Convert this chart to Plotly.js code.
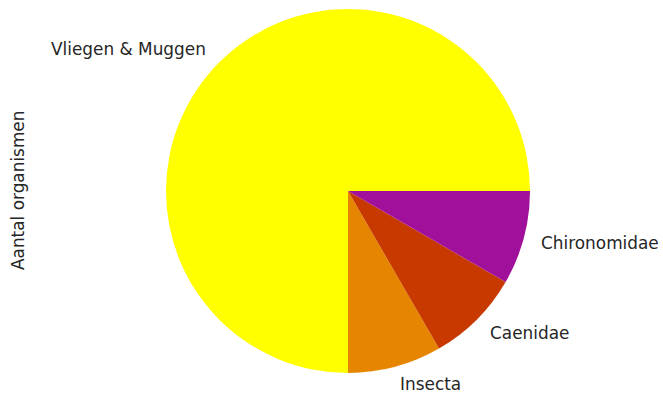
<!DOCTYPE html>
<html>
<head>
<meta charset="utf-8">
<script src="https://cdn.plot.ly/plotly-3.0.1.min.js"></script>
<style>html,body{margin:0;padding:0;background:#fff;}#chart{width:663px;height:399px;}</style>
</head>
<body>
<div id="chart"></div>
<script>
var categories = ["Vliegen & Muggen", "Insecta", "Caenidae", "Chironomidae"];
var values = [9, 1, 1, 1];
var colors = ["#ffff00", "#e68600", "#c83900", "#a0109a"];
var yLabel = "Aantal organismen";

var W = 663, H = 399;
var cx = 348, cy = 191, r = 182;
var FS = 16.9;
var dom = {x: [(cx - r) / W, (cx + r) / W], y: [1 - (cy + r) / H, 1 - (cy - r) / H]};

var total = values.reduce(function (a, b) { return a + b; }, 0);
var annotations = [];
var acc = 0;
for (var i = 0; i < values.length; i++) {
  var mid = (acc + values[i] / 2) / total * 2 * Math.PI;
  acc += values[i];
  var px = cx + 1.1 * r * Math.cos(mid);
  var py = cy - 1.1 * r * Math.sin(mid);
  annotations.push({
    text: categories[i], xref: "paper", yref: "paper",
    x: px / W, y: 1 - py / H,
    xanchor: Math.cos(mid) >= 0 ? "left" : "right", yanchor: "middle",
    xshift: Math.cos(mid) >= 0 ? -2 : 2,
    showarrow: false,
    font: {family: "DejaVu Sans", size: FS, color: "#262626"}
  });
}
annotations.push({
  text: yLabel, xref: "paper", yref: "paper", x: 18 / W, y: 1 - cy / H,
  xanchor: "center", yanchor: "middle", textangle: -90, showarrow: false,
  font: {family: "DejaVu Sans", size: FS, color: "#262626"}
});

// matplotlib starts the first slice at 3 o'clock going counterclockwise
var rot = 90 - values[0] / total * 360;
var trace = {
  type: "pie", labels: categories, values: values,
  marker: {colors: colors, line: {width: 0}},
  sort: false, direction: "counterclockwise", rotation: rot,
  textinfo: "none", hoverinfo: "label+value", domain: dom, showlegend: false
};
Plotly.newPlot("chart", [trace], {
  width: W, height: H, margin: {l: 0, r: 0, t: 0, b: 0},
  paper_bgcolor: "#fff", plot_bgcolor: "#fff",
  annotations: annotations
}, {displayModeBar: false});
</script>
</body>
</html>
